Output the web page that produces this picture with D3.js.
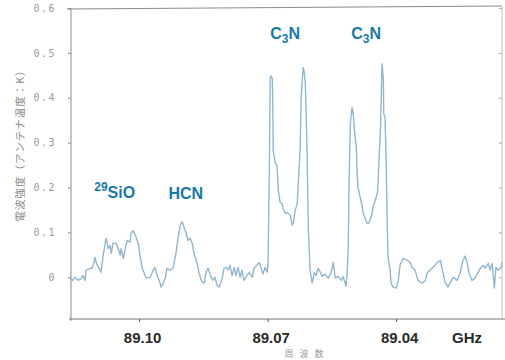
<!DOCTYPE html>
<html>
<head>
<meta charset="utf-8">
<script src="https://cdn.jsdelivr.net/npm/d3@7"></script>
<style>
  html, body { margin: 0; padding: 0; background: #fff; }
  svg { display: block; }
</style>
</head>
<body>
<svg width="505" height="360"></svg>
<script>
"use strict";

// frequency (GHz) of each trace point
const freq = [
  89.1161, 89.1156, 89.1149, 89.1142, 89.1135, 89.1131, 89.1126, 89.1124, 89.1114, 89.1110,
  89.1105, 89.1103, 89.1098, 89.1091, 89.1089, 89.1084, 89.1079, 89.1077, 89.1072, 89.1068,
  89.1065, 89.1061, 89.1054, 89.1049, 89.1044, 89.1042, 89.1037, 89.1033, 89.1028, 89.1021,
  89.1019, 89.1014, 89.1012, 89.1007, 89.1002, 89.0998, 89.0993, 89.0986, 89.0984, 89.0974,
  89.0967, 89.0963, 89.0958, 89.0951, 89.0949, 89.0944, 89.0939, 89.0935, 89.0928, 89.0921,
  89.0914, 89.0909, 89.0904, 89.0900, 89.0895, 89.0890, 89.0886, 89.0881, 89.0876, 89.0872,
  89.0865, 89.0860, 89.0853, 89.0848, 89.0844, 89.0839, 89.0832, 89.0827, 89.0823, 89.0818,
  89.0813, 89.0806, 89.0802, 89.0797, 89.0792, 89.0788, 89.0783, 89.0778, 89.0774, 89.0769,
  89.0764, 89.0760, 89.0755, 89.0748, 89.0743, 89.0736, 89.0732, 89.0725, 89.0720, 89.0718,
  89.0711, 89.0706, 89.0701, 89.0699, 89.0696, 89.0694, 89.0692, 89.0689, 89.0688, 89.0687,
  89.0682, 89.0678, 89.0675, 89.0671, 89.0666, 89.0664, 89.0659, 89.0654, 89.0652, 89.0647,
  89.0643, 89.0640, 89.0636, 89.0631, 89.0629, 89.0624, 89.0622, 89.0619, 89.0617, 89.0615,
  89.0612, 89.0608, 89.0605, 89.0601, 89.0596, 89.0591, 89.0587, 89.0582, 89.0577, 89.0573,
  89.0566, 89.0559, 89.0552, 89.0547, 89.0542, 89.0535, 89.0528, 89.0524, 89.0517, 89.0514,
  89.0512, 89.0510, 89.0507, 89.0503, 89.0500, 89.0498, 89.0493, 89.0491, 89.0489, 89.0484,
  89.0479, 89.0477, 89.0472, 89.0468, 89.0465, 89.0461, 89.0456, 89.0454, 89.0449, 89.0444,
  89.0442, 89.0440, 89.0437, 89.0435, 89.0433, 89.0430, 89.0429, 89.0426, 89.0423, 89.0421,
  89.0419, 89.0414, 89.0412, 89.0407, 89.0400, 89.0395, 89.0391, 89.0384, 89.0374, 89.0367,
  89.0363, 89.0356, 89.0349, 89.0339, 89.0332, 89.0328, 89.0321, 89.0314, 89.0304, 89.0297,
  89.0293, 89.0286, 89.0279, 89.0274, 89.0267, 89.0258, 89.0251, 89.0244, 89.0239, 89.0234,
  89.0230, 89.0223, 89.0216, 89.0209, 89.0202, 89.0197, 89.0192, 89.0185, 89.0181, 89.0176,
  89.0171, 89.0167, 89.0162, 89.0155, 89.0153
];

// antenna temperature (K) at each point
const temp = [
  -0.002, -0.007, 0.000, -0.007, -0.002, 0.004, -0.007, 0.016, 0.020, 0.020,
  0.033, 0.044, 0.027, 0.016, 0.011, 0.049, 0.076, 0.087, 0.064, 0.071,
  0.053, 0.076, 0.076, 0.064, 0.049, 0.064, 0.042, 0.060, 0.082, 0.078,
  0.098, 0.104, 0.100, 0.089, 0.076, 0.049, 0.022, 0.004, -0.002, 0.000,
  0.016, 0.022, 0.004, -0.013, -0.022, -0.013, -0.002, 0.020, 0.016, 0.020,
  0.053, 0.089, 0.116, 0.124, 0.111, 0.098, 0.082, 0.087, 0.076, 0.053,
  0.033, 0.009, -0.011, -0.013, 0.011, 0.020, 0.000, -0.007, 0.000, -0.018,
  -0.022, -0.002, 0.020, 0.022, 0.016, 0.027, 0.004, 0.022, 0.004, 0.022,
  0.000, 0.016, -0.007, 0.004, 0.011, 0.000, 0.020, 0.027, 0.033, 0.029,
  0.007, 0.022, 0.011, 0.031, 0.244, 0.444, 0.449, 0.442, 0.378, 0.282,
  0.253, 0.249, 0.193, 0.167, 0.164, 0.153, 0.142, 0.144, 0.142, 0.138,
  0.116, 0.120, 0.149, 0.164, 0.200, 0.289, 0.393, 0.444, 0.467, 0.460,
  0.431, 0.282, 0.104, 0.016, -0.013, 0.011, 0.004, 0.020, 0.011, 0.002,
  0.007, -0.002, 0.011, 0.033, -0.002, 0.002, -0.007, 0.002, -0.020, 0.016,
  0.060, 0.209, 0.342, 0.378, 0.364, 0.333, 0.289, 0.231, 0.200, 0.178,
  0.156, 0.142, 0.131, 0.120, 0.120, 0.127, 0.142, 0.156, 0.171, 0.187,
  0.216, 0.267, 0.320, 0.393, 0.476, 0.444, 0.364, 0.356, 0.244, 0.120,
  0.044, 0.016, -0.013, -0.022, -0.024, -0.007, 0.027, 0.042, 0.038, 0.033,
  0.022, 0.016, -0.007, -0.013, -0.007, 0.009, 0.016, 0.022, 0.033, 0.038,
  0.020, -0.011, -0.022, -0.013, 0.000, -0.007, 0.009, 0.038, 0.047, 0.031,
  0.009, -0.007, -0.002, 0.011, 0.022, 0.027, 0.020, 0.031, 0.016, 0.031,
  -0.024, 0.022, 0.016, 0.022, 0.033
];

const yTicks = [0, 0.1, 0.2, 0.3, 0.4, 0.5, 0.6];
const xTicks = [89.10, 89.07, 89.04];

// line labels: name, frequency, temperature where the label sits
const lineNames = ["29SiO", "HCN", "C3N", "C3N"];
const lineFreq = [89.1057, 89.0891, 89.0659, 89.0470];
const lineTemp = [0.176, 0.174, 0.531, 0.531];

const svg = d3.select("svg");
const margin = { top: 8, right: 3, bottom: 41, left: 71 };
const W = 505, H = 360;

const x = d3.scaleLinear()
  .domain([89.1159, 89.0153])
  .range([margin.left, W - margin.right]);
const y = d3.scaleLinear()
  .domain([-0.093, 0.6])
  .range([H - margin.bottom, margin.top]);

const axisCol = "#8c8c8c";
const labelCol = "#1c78a8";

// frame
svg.append("line")
  .attr("x1", margin.left - 4).attr("x2", W - margin.right)
  .attr("y1", margin.top + 1).attr("y2", margin.top - 2)
  .attr("stroke", axisCol).attr("stroke-width", 1);
svg.append("line")
  .attr("x1", W - margin.right).attr("x2", W - margin.right)
  .attr("y1", margin.top - 2).attr("y2", H - margin.bottom)
  .attr("stroke", "#c4c4c4").attr("stroke-width", 1);

// left axis
const yAxis = svg.append("g")
  .attr("transform", `translate(${margin.left},0)`)
  .call(d3.axisLeft(y).tickValues(yTicks).tickSize(3).tickPadding(12)
    .tickFormat(d => d === 0 ? "0" : d3.format(".1f")(d)));
yAxis.select(".domain").attr("stroke", axisCol).attr("d", `M0,${margin.top}V${H - margin.bottom + 2}`);
yAxis.selectAll(".tick line").attr("stroke", axisCol);
yAxis.selectAll(".tick text")
  .attr("fill", "#9a9a9a")
  .style("font-family", "'DejaVu Sans Mono', monospace")
  .style("font-size", "10px")
  .style("letter-spacing", "1.5px");

// right axis ticks
svg.append("g")
  .attr("transform", `translate(${W - margin.right},0)`)
  .call(d3.axisLeft(y).tickValues(yTicks).tickSize(3).tickFormat(""))
  .call(g => g.select(".domain").remove())
  .selectAll(".tick line").attr("stroke", "#aaa");

// bottom axis
const xAxis = svg.append("g")
  .attr("transform", `translate(0,${H - margin.bottom})`)
  .call(d3.axisBottom(x).tickValues(xTicks).tickSize(3).tickPadding(10)
    .tickFormat(d3.format(".2f")));
xAxis.select(".domain").attr("stroke", "#777")
  .attr("d", `M${margin.left - 2},0H${W}`);
xAxis.selectAll(".tick line").attr("stroke", "#555");
xAxis.selectAll(".tick text")
  .attr("fill", "#2a2a2a")
  .attr("dx", 3)
  .style("font-family", "'Liberation Sans', Arial, sans-serif")
  .style("font-weight", "bold")
  .style("font-size", "15px");

svg.append("text")
  .attr("x", 467).attr("y", 343)
  .attr("text-anchor", "middle")
  .attr("fill", "#2a2a2a")
  .style("font-family", "'Liberation Sans', Arial, sans-serif")
  .style("font-weight", "bold")
  .style("font-size", "15px")
  .text("GHz");

// axis titles
svg.append("text")
  .attr("x", 307).attr("y", 357)
  .attr("text-anchor", "middle")
  .attr("fill", "#999")
  .style("font-family", "'Noto Sans CJK JP', sans-serif")
  .style("font-size", "9px")
  .style("letter-spacing", "6px")
  .text("周波数");

svg.append("text")
  .attr("transform", "translate(24,143) rotate(-90)")
  .attr("text-anchor", "middle")
  .attr("fill", "#8a8a8a")
  .style("font-family", "'Noto Sans CJK JP', sans-serif")
  .style("font-size", "10.5px")
  .style("letter-spacing", "1px")
  .text("電波強度（アンテナ温度：K）");

// spectrum
const pts = freq.map((f, i) => [f, temp[i]]);
svg.append("path")
  .datum(pts)
  .attr("fill", "none")
  .attr("stroke", "#93b6cd")
  .attr("stroke-width", 1.4)
  .attr("stroke-linejoin", "round")
  .attr("d", d3.line().x(d => x(d[0])).y(d => y(d[1])));

// molecule labels
const labels = svg.append("g")
  .attr("fill", labelCol)
  .style("font-family", "'Liberation Sans', Arial, sans-serif")
  .style("font-weight", "bold")
  .style("font-size", "16px");

lineNames.forEach((name, i) => {
  const t = labels.append("text")
    .attr("x", x(lineFreq[i]))
    .attr("y", y(lineTemp[i]))
    .attr("text-anchor", "middle");
  if (name === "C3N") {
    t.append("tspan").text("C");
    t.append("tspan").attr("dy", 4).style("font-size", "12px").text("3");
    t.append("tspan").attr("dy", -4).text("N");
  } else if (name === "29SiO") {
    t.append("tspan").attr("dy", -7).style("font-size", "12px").text("29");
    t.append("tspan").attr("dy", 7).text("SiO");
  } else {
    t.text(name);
  }
});
</script>
</body>
</html>
